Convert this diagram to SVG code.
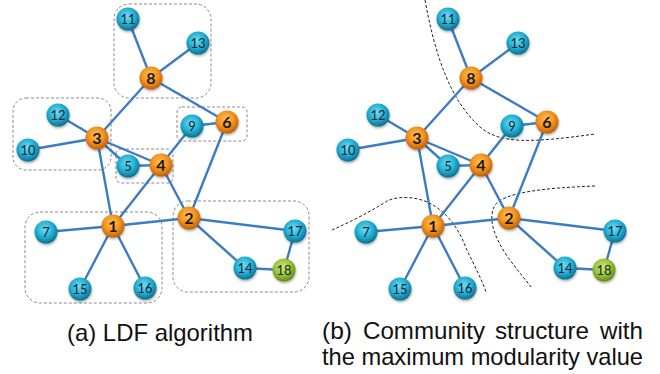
<svg xmlns="http://www.w3.org/2000/svg" width="660" height="374" viewBox="0 0 660 374">
<defs>
<radialGradient id="gb" cx="45%" cy="38%" r="62%">
<stop offset="0" stop-color="#6fdcf4"/>
<stop offset="0.55" stop-color="#25b2d6"/>
<stop offset="1" stop-color="#0a6f8f"/>
</radialGradient>
<radialGradient id="go" cx="45%" cy="38%" r="62%">
<stop offset="0" stop-color="#ffc25c"/>
<stop offset="0.55" stop-color="#f5931f"/>
<stop offset="1" stop-color="#c0600a"/>
</radialGradient>
<radialGradient id="gg" cx="45%" cy="38%" r="62%">
<stop offset="0" stop-color="#cde67a"/>
<stop offset="0.55" stop-color="#9cc63a"/>
<stop offset="1" stop-color="#5e8a16"/>
</radialGradient>
<filter id="sh" x="-40%" y="-40%" width="180%" height="180%">
<feDropShadow dx="0.5" dy="1.5" stdDeviation="1.2" flood-color="#000" flood-opacity="0.35"/>
</filter>
</defs>
<style>
.e{stroke:#3c7cc4;stroke-width:2.4;fill:none;stroke-linecap:round}
.box{fill:none;stroke:#8a8a8a;stroke-width:1;stroke-dasharray:3 2}
.cut{fill:none;stroke:#222;stroke-width:1;stroke-dasharray:3 2}
.b{fill:url(#gb);filter:url(#sh)}
.o{fill:url(#go);filter:url(#sh)}
.g{fill:url(#gg);filter:url(#sh)}
.lb{font-family:Lato,"Liberation Sans",sans-serif;font-size:13px;fill:#1c2530;text-anchor:middle}
.lo{font-family:Lato,"Liberation Sans",sans-serif;font-size:16px;font-weight:bold;fill:#1a1a1a;text-anchor:middle}
.cap{font-family:"Liberation Sans",Arial,sans-serif;font-size:24px;fill:#111}
</style>

<g id="boxes">
<rect class="box" x="114" y="4" width="97" height="94" rx="15"/>
<rect class="box" x="13" y="98" width="98" height="72" rx="13"/>
<rect class="box" x="177" y="107" width="70" height="34" rx="5"/>
<rect class="box" x="116" y="149" width="57" height="34" rx="5"/>
<rect class="box" x="25" y="212" width="137" height="91" rx="15"/>
<rect class="box" x="173" y="201" width="136" height="91" rx="15"/>
</g>

<g id="cuts">
<path class="cut" d="M425,0 C435,55 450,100 480,127 C500,144 530,143 595,134"/>
<path class="cut" d="M595,186 C545,188 505,192 495,205 C487,219 495,238 507,256 C517,270 525,279 531,287"/>
<path class="cut" d="M332,230 C350,222 370,212 387,201 C400,195 420,197 433,205 C450,215 460,232 466,248 C474,265 482,280 486,292"/>
</g>

<g id="connectors">
<g id="edges-a">
<path class="e" d="M128,19 L151,78 M198,43 L151,78 M151,78 L97,138 M151,78 L227,122 M58,115 L97,138 M28,150 L97,138 M97,138 L161,165 M97,138 L128,166 M97,138 L113,226 M128,166 L161,165 M161,165 L192,126 M192,126 L227,122 M227,122 L189,218 M161,165 L113,226 M161,165 L189,218 M113,226 L46,232 M113,226 L80,289 M113,226 L145,288 M113,226 L189,218 M189,218 L295,231 M189,218 L245,268 M245,268 L284,270 M295,231 L284,270"/>
</g>
<g id="edges-b" transform="translate(320,0)">
<path class="e" d="M128,19 L151,78 M198,43 L151,78 M151,78 L97,138 M151,78 L227,122 M58,115 L97,138 M28,150 L97,138 M97,138 L161,165 M97,138 L128,166 M97,138 L113,226 M128,166 L161,165 M161,165 L192,126 M192,126 L227,122 M227,122 L189,218 M161,165 L113,226 M161,165 L189,218 M113,226 L46,232 M113,226 L80,289 M113,226 L145,288 M113,226 L189,218 M189,218 L295,231 M189,218 L245,268 M245,268 L284,270 M295,231 L284,270"/>
</g>
</g>

<g id="nodes-a">
<g id="a1"><circle class="o" cx="113" cy="226" r="11.5"/><text class="lo" x="113" y="231.5">1</text></g>
<g id="a2"><circle class="o" cx="189" cy="218" r="11.5"/><text class="lo" x="189" y="223.5">2</text></g>
<g id="a3"><circle class="o" cx="97" cy="138" r="11.5"/><text class="lo" x="97" y="143.5">3</text></g>
<g id="a4"><circle class="o" cx="161" cy="165" r="11.5"/><text class="lo" x="161" y="170.5">4</text></g>
<g id="a5"><circle class="b" cx="128" cy="166" r="11.5"/><text class="lb" x="128" y="170.5">5</text></g>
<g id="a6"><circle class="o" cx="227" cy="122" r="11.5"/><text class="lo" x="227" y="127.5">6</text></g>
<g id="a7"><circle class="b" cx="46" cy="232" r="11.5"/><text class="lb" x="46" y="236.5">7</text></g>
<g id="a8"><circle class="o" cx="151" cy="78" r="11.5"/><text class="lo" x="151" y="83.5">8</text></g>
<g id="a9"><circle class="b" cx="192" cy="126" r="11.5"/><text class="lb" x="192" y="130.5">9</text></g>
<g id="a10"><circle class="b" cx="28" cy="150" r="11.5"/><text class="lb" x="28" y="154.5">10</text></g>
<g id="a11"><circle class="b" cx="128" cy="19" r="11.5"/><text class="lb" x="128" y="23.5">11</text></g>
<g id="a12"><circle class="b" cx="58" cy="115" r="11.5"/><text class="lb" x="58" y="119.5">12</text></g>
<g id="a13"><circle class="b" cx="198" cy="43" r="11.5"/><text class="lb" x="198" y="47.5">13</text></g>
<g id="a14"><circle class="b" cx="245" cy="268" r="11.5"/><text class="lb" x="245" y="272.5">14</text></g>
<g id="a15"><circle class="b" cx="80" cy="289" r="11.5"/><text class="lb" x="80" y="293.5">15</text></g>
<g id="a16"><circle class="b" cx="145" cy="288" r="11.5"/><text class="lb" x="145" y="292.5">16</text></g>
<g id="a17"><circle class="b" cx="295" cy="231" r="11.5"/><text class="lb" x="295" y="235.5">17</text></g>
<g id="a18"><circle class="g" cx="284" cy="270" r="11.5"/><text class="lb" x="284" y="274.5">18</text></g>
</g>

<g id="nodes-b" transform="translate(320,0)">
<g id="b1"><circle class="o" cx="113" cy="226" r="11.5"/><text class="lo" x="113" y="231.5">1</text></g>
<g id="b2"><circle class="o" cx="189" cy="218" r="11.5"/><text class="lo" x="189" y="223.5">2</text></g>
<g id="b3"><circle class="o" cx="97" cy="138" r="11.5"/><text class="lo" x="97" y="143.5">3</text></g>
<g id="b4"><circle class="o" cx="161" cy="165" r="11.5"/><text class="lo" x="161" y="170.5">4</text></g>
<g id="b5"><circle class="b" cx="128" cy="166" r="11.5"/><text class="lb" x="128" y="170.5">5</text></g>
<g id="b6"><circle class="o" cx="227" cy="122" r="11.5"/><text class="lo" x="227" y="127.5">6</text></g>
<g id="b7"><circle class="b" cx="46" cy="232" r="11.5"/><text class="lb" x="46" y="236.5">7</text></g>
<g id="b8"><circle class="o" cx="151" cy="78" r="11.5"/><text class="lo" x="151" y="83.5">8</text></g>
<g id="b9"><circle class="b" cx="192" cy="126" r="11.5"/><text class="lb" x="192" y="130.5">9</text></g>
<g id="b10"><circle class="b" cx="28" cy="150" r="11.5"/><text class="lb" x="28" y="154.5">10</text></g>
<g id="b11"><circle class="b" cx="128" cy="19" r="11.5"/><text class="lb" x="128" y="23.5">11</text></g>
<g id="b12"><circle class="b" cx="58" cy="115" r="11.5"/><text class="lb" x="58" y="119.5">12</text></g>
<g id="b13"><circle class="b" cx="198" cy="43" r="11.5"/><text class="lb" x="198" y="47.5">13</text></g>
<g id="b14"><circle class="b" cx="245" cy="268" r="11.5"/><text class="lb" x="245" y="272.5">14</text></g>
<g id="b15"><circle class="b" cx="80" cy="289" r="11.5"/><text class="lb" x="80" y="293.5">15</text></g>
<g id="b16"><circle class="b" cx="145" cy="288" r="11.5"/><text class="lb" x="145" y="292.5">16</text></g>
<g id="b17"><circle class="b" cx="295" cy="231" r="11.5"/><text class="lb" x="295" y="235.5">17</text></g>
<g id="b18"><circle class="g" cx="284" cy="270" r="11.5"/><text class="lb" x="284" y="274.5">18</text></g>
</g>

<g id="captions">
<text class="cap" x="67" y="341" textLength="186" lengthAdjust="spacingAndGlyphs">(a) LDF algorithm</text>
<text class="cap" x="322" y="339" textLength="30" lengthAdjust="spacingAndGlyphs">(b)</text>
<text class="cap" x="363" y="339" textLength="122" lengthAdjust="spacingAndGlyphs">Community</text>
<text class="cap" x="495" y="339" textLength="94" lengthAdjust="spacingAndGlyphs">structure</text>
<text class="cap" x="600" y="339" textLength="43" lengthAdjust="spacingAndGlyphs">with</text>
<text class="cap" x="322" y="365" textLength="321" lengthAdjust="spacingAndGlyphs">the maximum modularity value</text>
</g>
</svg>
